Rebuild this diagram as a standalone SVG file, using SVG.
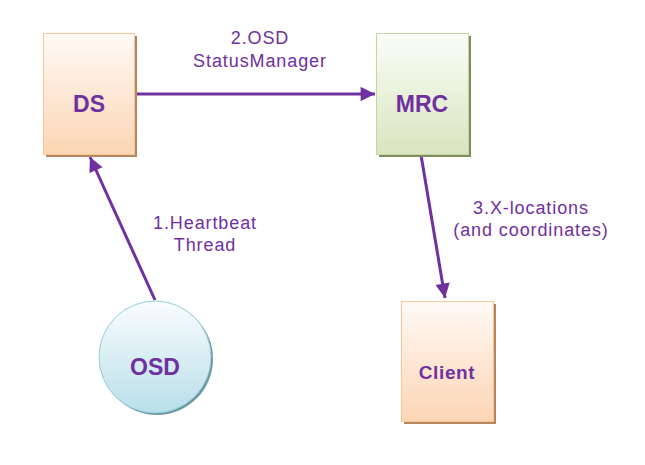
<svg xmlns="http://www.w3.org/2000/svg" width="645" height="465" viewBox="0 0 645 465">
<defs>
<linearGradient id="gOrange" x1="0" y1="0" x2="0" y2="1"><stop offset="0" stop-color="#fffaf6"/><stop offset="1" stop-color="#fcd5b4"/></linearGradient>
<linearGradient id="gGreen" x1="0" y1="0" x2="0" y2="1"><stop offset="0" stop-color="#fbfdf8"/><stop offset="1" stop-color="#d8e5bf"/></linearGradient>
<linearGradient id="gBlue" x1="0" y1="0" x2="0" y2="1"><stop offset="0" stop-color="#fafdfe"/><stop offset="1" stop-color="#b9dfe9"/></linearGradient>
<marker id="arr" viewBox="0 0 10 10" refX="10" refY="5" markerWidth="5.3" markerHeight="4.8" orient="auto" markerUnits="strokeWidth"><path d="M0,0 L10,5 L0,10 Z" fill="#7030a0"/></marker>
</defs>
<style>
.lbl{font-family:"Liberation Sans",Arial,sans-serif;fill:#7030a0;text-anchor:middle}
.node{font-weight:bold;font-size:23px}
.edge{font-size:18px;letter-spacing:0.9px}
.conn{stroke:#7030a0;stroke-width:3;fill:none;marker-end:url(#arr)}
</style>
<rect width="645" height="465" fill="#ffffff"/>
<g id="connectors">
<line class="conn" x1="135" y1="94" x2="375" y2="94"/>
<line class="conn" x1="155" y1="300" x2="90" y2="157"/>
<line class="conn" x1="421" y1="155" x2="445" y2="298"/>
</g>
<g id="DS">
<rect x="46" y="36" width="91" height="121" fill="#b8845c"/>
<rect x="43.5" y="33.5" width="91" height="121" fill="url(#gOrange)" stroke="#f7c69b" stroke-width="1"/>
<text class="lbl node" x="89" y="112">DS</text>
</g>
<g id="MRC">
<rect x="379" y="36" width="92" height="121" fill="#7f8d62"/>
<rect x="376.5" y="33.5" width="92" height="121" fill="url(#gGreen)" stroke="#c4d79e" stroke-width="1"/>
<text class="lbl node" x="422" y="112">MRC</text>
</g>
<g id="OSD">
<circle cx="157" cy="359" r="56" fill="#6e98a3"/>
<circle cx="155" cy="357" r="56" fill="url(#gBlue)" stroke="#92cddc" stroke-width="1"/>
<text class="lbl node" x="155" y="375">OSD</text>
</g>
<g id="Client">
<rect x="404" y="304" width="92" height="120" fill="#b8845c"/>
<rect x="401.5" y="301.5" width="92" height="120" fill="url(#gOrange)" stroke="#f7c69b" stroke-width="1"/>
<text class="lbl" x="447" y="379" style="font-weight:bold;font-size:19px;letter-spacing:0.6px">Client</text>
</g>
<g id="labels">
<text class="lbl edge" x="260" y="44">2.OSD</text>
<text class="lbl edge" x="260" y="67">StatusManager</text>
<text class="lbl edge" x="205" y="229">1.Heartbeat</text>
<text class="lbl edge" x="205" y="251">Thread</text>
<text class="lbl edge" x="531" y="214">3.X-locations</text>
<text class="lbl edge" x="531" y="236">(and coordinates)</text>
</g>
</svg>
